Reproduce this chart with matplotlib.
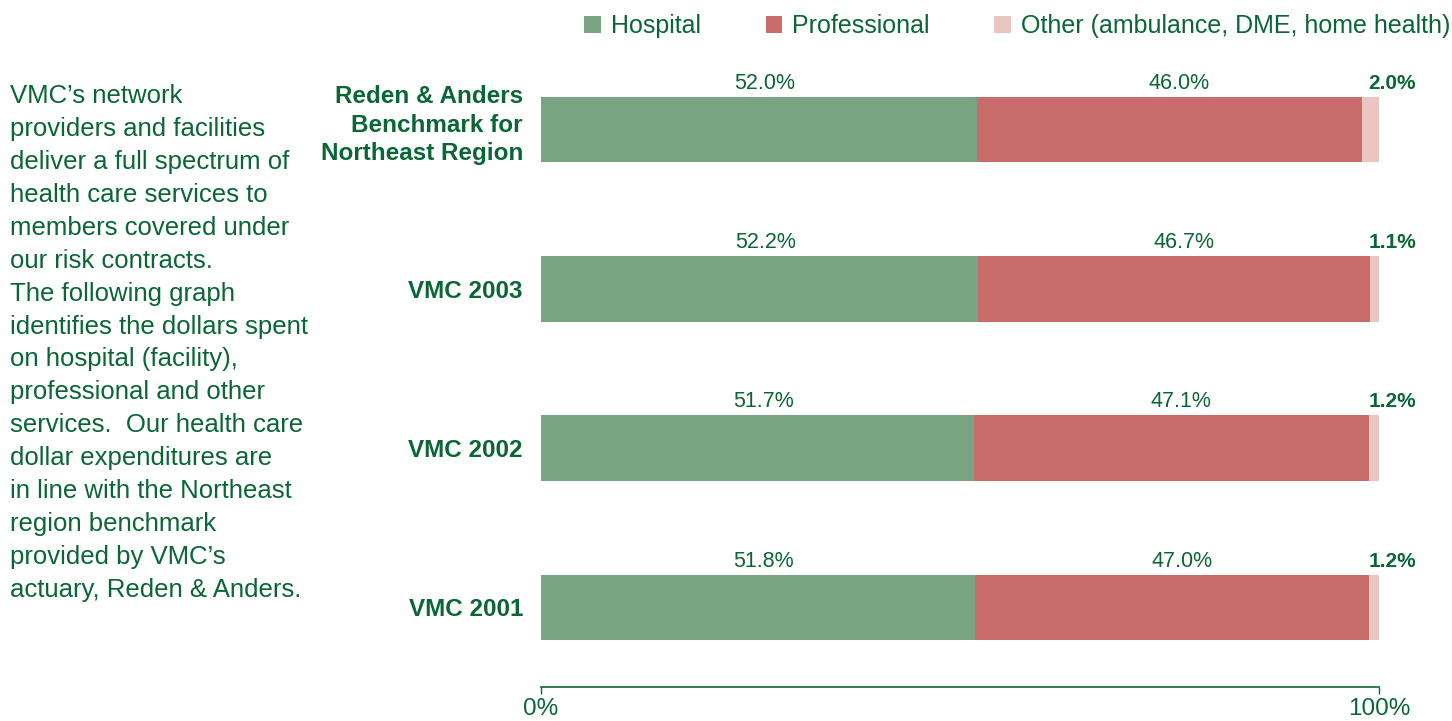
import matplotlib
matplotlib.use('Agg')
import matplotlib.pyplot as plt
from matplotlib.transforms import ScaledTranslation
import numpy as np

plt.rcParams['font.family'] = ['Liberation Sans', 'DejaVu Sans']

categories = ['VMC 2001', 'VMC 2002', 'VMC 2003',
              'Reden & Anders\nBenchmark for\nNortheast Region']
hospital = [51.8, 51.7, 52.2, 52.0]
professional = [47.0, 47.1, 46.7, 46.0]
other = [1.2, 1.2, 1.1, 2.0]
series_names = ['Hospital', 'Professional', 'Other (ambulance, DME, home health)']

paragraph = ("VMC\u2019s network\nproviders and facilities\ndeliver a full spectrum of\n"
             "health care services to\nmembers covered under\nour risk contracts.\n"
             "The following graph\nidentifies the dollars spent\non hospital (facility),\n"
             "professional and other\nservices.  Our health care\ndollar expenditures are\n"
             "in line with the Northeast\nregion benchmark\nprovided by VMC\u2019s\n"
             "actuary, Reden & Anders.")

green = '#78a482'
red = '#c86d6b'
pink = '#ebc6c1'
txt = '#0a6634'

W, H = 1452, 721
fig = plt.figure(figsize=(W / 100, H / 100), dpi=100)
ax = fig.add_axes([541 / W, 1 - 687 / H, (1379 - 541) / W, (687 - 50) / H])

y = np.arange(len(categories))
h = 0.41
hosp = np.array(hospital)
prof = np.array(professional)
oth = np.array(other)

ax.barh(y, hosp, height=h, color=green, label=series_names[0])
ax.barh(y, prof, height=h, left=hosp, color=red, label=series_names[1])
ax.barh(y, oth, height=h, left=hosp + prof, color=pink, label=series_names[2])

# value labels sit a little above each bar
for i in range(len(categories)):
    ly = y[i] + h / 2 + 0.085
    ax.annotate(f'{hosp[i]:.1f}%', (hosp[i] / 2, ly), xytext=(4, 0),
                textcoords='offset points', ha='center', va='center',
                fontsize=15.5, color=txt)
    ax.annotate(f'{prof[i]:.1f}%', (hosp[i] + prof[i] / 2, ly), xytext=(7, 0),
                textcoords='offset points', ha='center', va='center',
                fontsize=15.5, color=txt)
    ax.text(101.6, ly, f'{oth[i]:.1f}%', ha='center', va='center',
            fontsize=15, color=txt, fontweight='bold')

ax.set_xlim(0, 100)
ax.set_ylim(-0.5, 3.5)
ax.set_yticks(y)
ax.set_yticklabels(categories, fontsize=17.5, fontweight='bold', color=txt,
                   linespacing=1.3)
ax.tick_params(axis='y', length=0, pad=13)
lbl = ax.get_yticklabels()[3]
lbl.set_transform(lbl.get_transform() + ScaledTranslation(0, 7 / 72, fig.dpi_scale_trans))

ax.set_xticks([0, 100])
ax.set_xticklabels(['0%', '100%'], fontsize=17.5, color=txt)
ax.tick_params(axis='x', length=5, width=1, color=txt, direction='out', pad=3)

for s in ['top', 'right', 'left']:
    ax.spines[s].set_visible(False)
ax.spines['bottom'].set_color(txt)
ax.spines['bottom'].set_linewidth(1.2)

leg = fig.legend(loc='upper right', bbox_to_anchor=(1450 / W, 1 - 14 / H), ncol=3,
                 frameon=False, fontsize=18, handlelength=0.65, handleheight=0.65,
                 handletextpad=0.4, columnspacing=2.6, borderaxespad=0, borderpad=0)
for t in leg.get_texts():
    t.set_color(txt)

fig.text(10 / W, 1 - 84 / H, paragraph, ha='left', va='top', fontsize=18.5,
         color=txt, linespacing=1.47)

fig.savefig('out.png', dpi=100)
